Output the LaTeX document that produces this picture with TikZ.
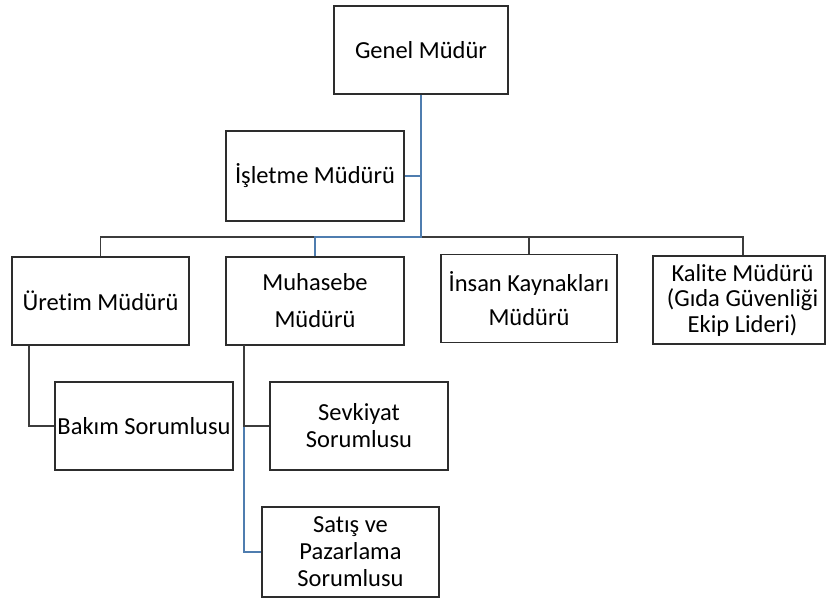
\documentclass[tikz,border=0pt]{standalone}
\usepackage{fontspec}
\setmainfont{Carlito}[Ligatures={CommonOff}]
\definecolor{boxline}{RGB}{45,45,45}
\definecolor{conline}{RGB}{60,60,60}
\definecolor{blueline}{RGB}{79,125,175}
\begin{document}
\begin{tikzpicture}[x=1pt,y=-1pt,
  orgbox/.style={draw=boxline, line width=1.8pt, fill=white, inner sep=0pt, align=center,
    minimum width=177pt, minimum height=88pt, font=\fontsize{24.5}{27}\selectfont},
  con/.style={draw=conline, line width=1.2pt},
  bcon/.style={draw=blueline, line width=1.4pt}]
\useasboundingbox (0,0) rectangle (827,599);
% nodes
\node[orgbox, minimum width=174pt] (gm) at (421,50) {Genel Müdür};
\node[orgbox, minimum width=178pt, minimum height=90pt] (isl) at (315,176) {İşletme Müdürü};
\node[orgbox] (ure) at (100.5,301) {Üretim Müdürü};
\node[orgbox, minimum width=178pt, font=\fontsize{24.5}{37}\selectfont] (muh) at (315,301) {Muhasebe\\Müdürü};
\node[orgbox, minimum width=176pt, font=\fontsize{24.5}{34}\selectfont] (ins) at (529,298.5) {İnsan Kaynakları\\Müdürü};
\node[orgbox, minimum width=172pt, font=\fontsize{24.5}{25.5}\selectfont] (kal) at (739,300) {\hspace*{7pt}Kalite Müdürü\\\hspace*{7pt}(Gıda Güvenliği\\\hspace*{7pt}Ekip Lideri)};
\node[orgbox, minimum width=178pt] (bak) at (144,426) {Bakım Sorumlusu};
\node[orgbox, minimum width=178pt] (sev) at (359,426) {Sevkiyat\\Sorumlusu};
\node[orgbox, minimum height=90pt] (sat) at (350.5,552) {Satış ve\\Pazarlama\\Sorumlusu};
% bar
\coordinate (bar) at (421,237);
% black connectors
\draw[con] (ure.north) -- (ure.north |- bar) -- (bar -| 743,0) coordinate (kr) -- (kr |- kal.north);
\draw[con] (ins.north |- bar) -- (ins.north);
\draw[con] (ure.south -| 29,0) coordinate (ud) -- (ud |- bak.west) -- (bak.west);
% blue connectors
\draw[bcon] (gm.south) -- (bar) -| (muh.north);
\draw[bcon] (isl.east) -- (isl.east -| gm.south);
\coordinate (md) at (244,345);
\draw[bcon] (md) -- (md |- sat.west) -- (sat.west);
\draw[con] (md) -- (md |- sev.west) -- (sev.west);
\end{tikzpicture}
\end{document}
